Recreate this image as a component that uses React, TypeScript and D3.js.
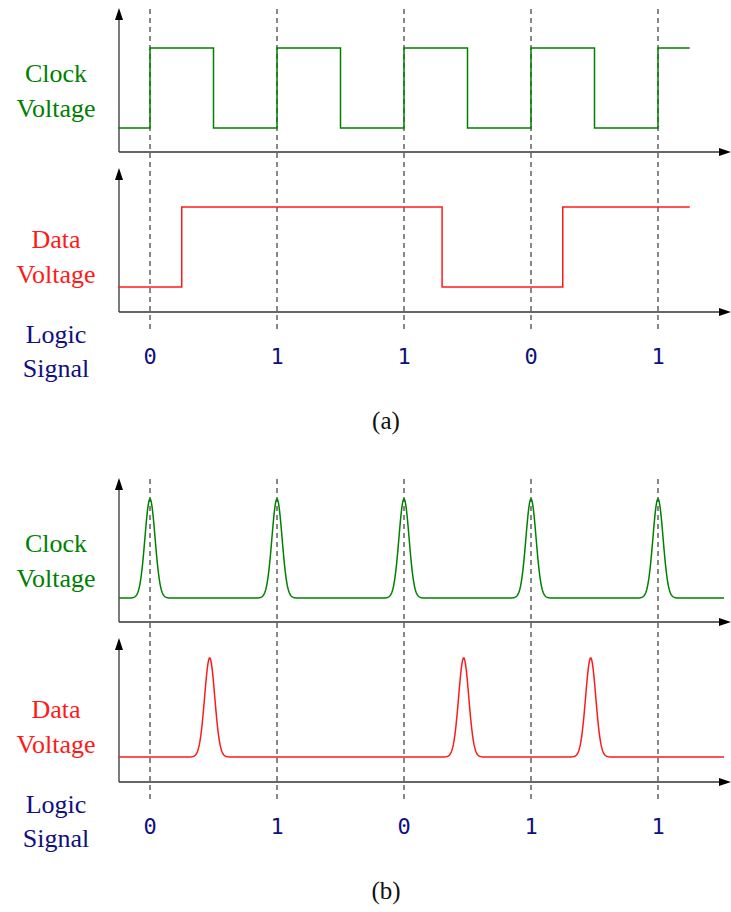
import React from "react";
import * as d3 from "d3";

// time is measured in clock periods; bit n is sampled at t = n
const clockSquare = [
  { t: -0.25, v: 0 }, { t: 0, v: 1 }, { t: 0.5, v: 0 }, { t: 1, v: 1 }, { t: 1.5, v: 0 },
  { t: 2, v: 1 }, { t: 2.5, v: 0 }, { t: 3, v: 1 }, { t: 3.5, v: 0 }, { t: 4, v: 1 }, { t: 4.25, v: 1 },
];
const dataSquare = [
  { t: -0.25, v: 0 }, { t: 0.25, v: 1 }, { t: 2.3, v: 0 }, { t: 3.25, v: 1 }, { t: 4.25, v: 1 },
];
const bitsA = ["0", "1", "1", "0", "1"];

const clockPulses = [0, 1, 2, 3, 4];
const dataPulses = [0.47, 2.47, 3.47];
const bitsB = ["0", "1", "0", "1", "1"];

const sampleTimes = [0, 1, 2, 3, 4];

const W = 731;
const H = 912;
const GREEN = "#008000";
const RED = "#ff1a1a";
const NAVY = "#10107f";
const serif = "'Liberation Serif', 'DejaVu Serif', serif";
const mono = "'DejaVu Sans Mono', 'Liberation Mono', monospace";

const x = d3.scaleLinear().domain([0, 4]).range([150, 658]);
const axisX0 = 119;
const axisX1 = 731;

// one pair of plots (clock + data), shifted down by dy
function Panel({ dy, kind }: { dy: number; kind: "a" | "b" }) {
  const clockTop = 8 + dy;
  const dataTop = 168 + dy;
  // square waves swing 80px, pulses swing 100px
  const hi = kind === "a" ? 40 : 21;
  const yClock = d3.scaleLinear().domain([0, 1]).range([clockTop + 120, clockTop + hi]);
  const yData = d3.scaleLinear().domain([0, 1]).range([dataTop + 119, dataTop + hi - 1]);

  const step = (ys: d3.ScaleLinear<number, number>) =>
    d3.line<{ t: number; v: number }>()
      .x((d) => x(d.t))
      .y((d) => ys(d.v))
      .curve(d3.curveStepAfter);

  // gaussian pulse train drawn across the axis range
  const pulses = (ys: d3.ScaleLinear<number, number>, centers: number[]) => {
    const tEnd = x.invert(724);
    const ts = d3.range(-0.244, tEnd, 0.004).concat([tEnd]);
    const sigma = 0.04;
    const pts = ts.map((t) => {
      let v = 0;
      centers.forEach((c) => {
        v += Math.exp(-((t - c) ** 2) / (2 * sigma * sigma));
      });
      return { t, v: Math.min(v, 1) };
    });
    return d3.line<{ t: number; v: number }>().x((d) => x(d.t)).y((d) => ys(d.v))(pts) ?? "";
  };

  const bits = kind === "a" ? bitsA : bitsB;
  const clockPath = kind === "a" ? step(yClock)(clockSquare) ?? "" : pulses(yClock, clockPulses);
  const dataPath = kind === "a" ? step(yData)(dataSquare) ?? "" : pulses(yData, dataPulses);

  const axes = (top: number) => (
    <g>
      <line x1={axisX0} y1={top + 144} x2={axisX0} y2={top + 8} stroke="#333" strokeWidth={1.3} />
      <path d={`M${axisX0},${top} l-4,12 l8,0 z`} fill="#000" />
      <line x1={axisX0} y1={top + 144} x2={axisX1 - 8} y2={top + 144} stroke="#333" strokeWidth={1.3} />
      <path d={`M${axisX1},${top + 144} l-12,-4 l0,8 z`} fill="#000" />
    </g>
  );

  return (
    <g>
      {sampleTimes.map((t) => (
        <line key={t} x1={x(t)} x2={x(t)} y1={clockTop + 1} y2={dataTop + 161}
          stroke="#111" strokeWidth={1} strokeDasharray="5,4" />
      ))}
      {axes(clockTop)}
      {axes(dataTop)}
      <path d={clockPath} fill="none" stroke={GREEN} strokeWidth={1.5} />
      <path d={dataPath} fill="none" stroke={RED} strokeWidth={1.5} />

      <g fontFamily={serif} fontSize={26} textAnchor="middle">
        <text x={56} y={clockTop + 74} fill={GREEN}>Clock</text>
        <text x={56} y={clockTop + 109} fill={GREEN}>Voltage</text>
        <text x={56} y={dataTop + 80} fill={RED}>Data</text>
        <text x={56} y={dataTop + 115} fill={RED}>Voltage</text>
        <text x={56} y={dataTop + 175} fill={NAVY}>Logic</text>
        <text x={56} y={dataTop + 209} fill={NAVY}>Signal</text>
      </g>
      <g fontFamily={mono} fontSize={22} textAnchor="middle" fill={NAVY}>
        {bits.map((b, i) => (
          <text key={i} x={x(sampleTimes[i])} y={dataTop + 196}>{b}</text>
        ))}
      </g>
      <text x={386} y={429 + dy} fontFamily={serif} fontSize={25} textAnchor="middle" fill="#111">
        ({kind})
      </text>
    </g>
  );
}

export default function App() {
  return (
    <svg width={W} height={H} viewBox={`0 0 ${W} ${H}`}
      style={{ position: "absolute", left: 0, top: 0, background: "#fff" }}>
      <Panel dy={0} kind="a" />
      <Panel dy={470} kind="b" />
    </svg>
  );
}
